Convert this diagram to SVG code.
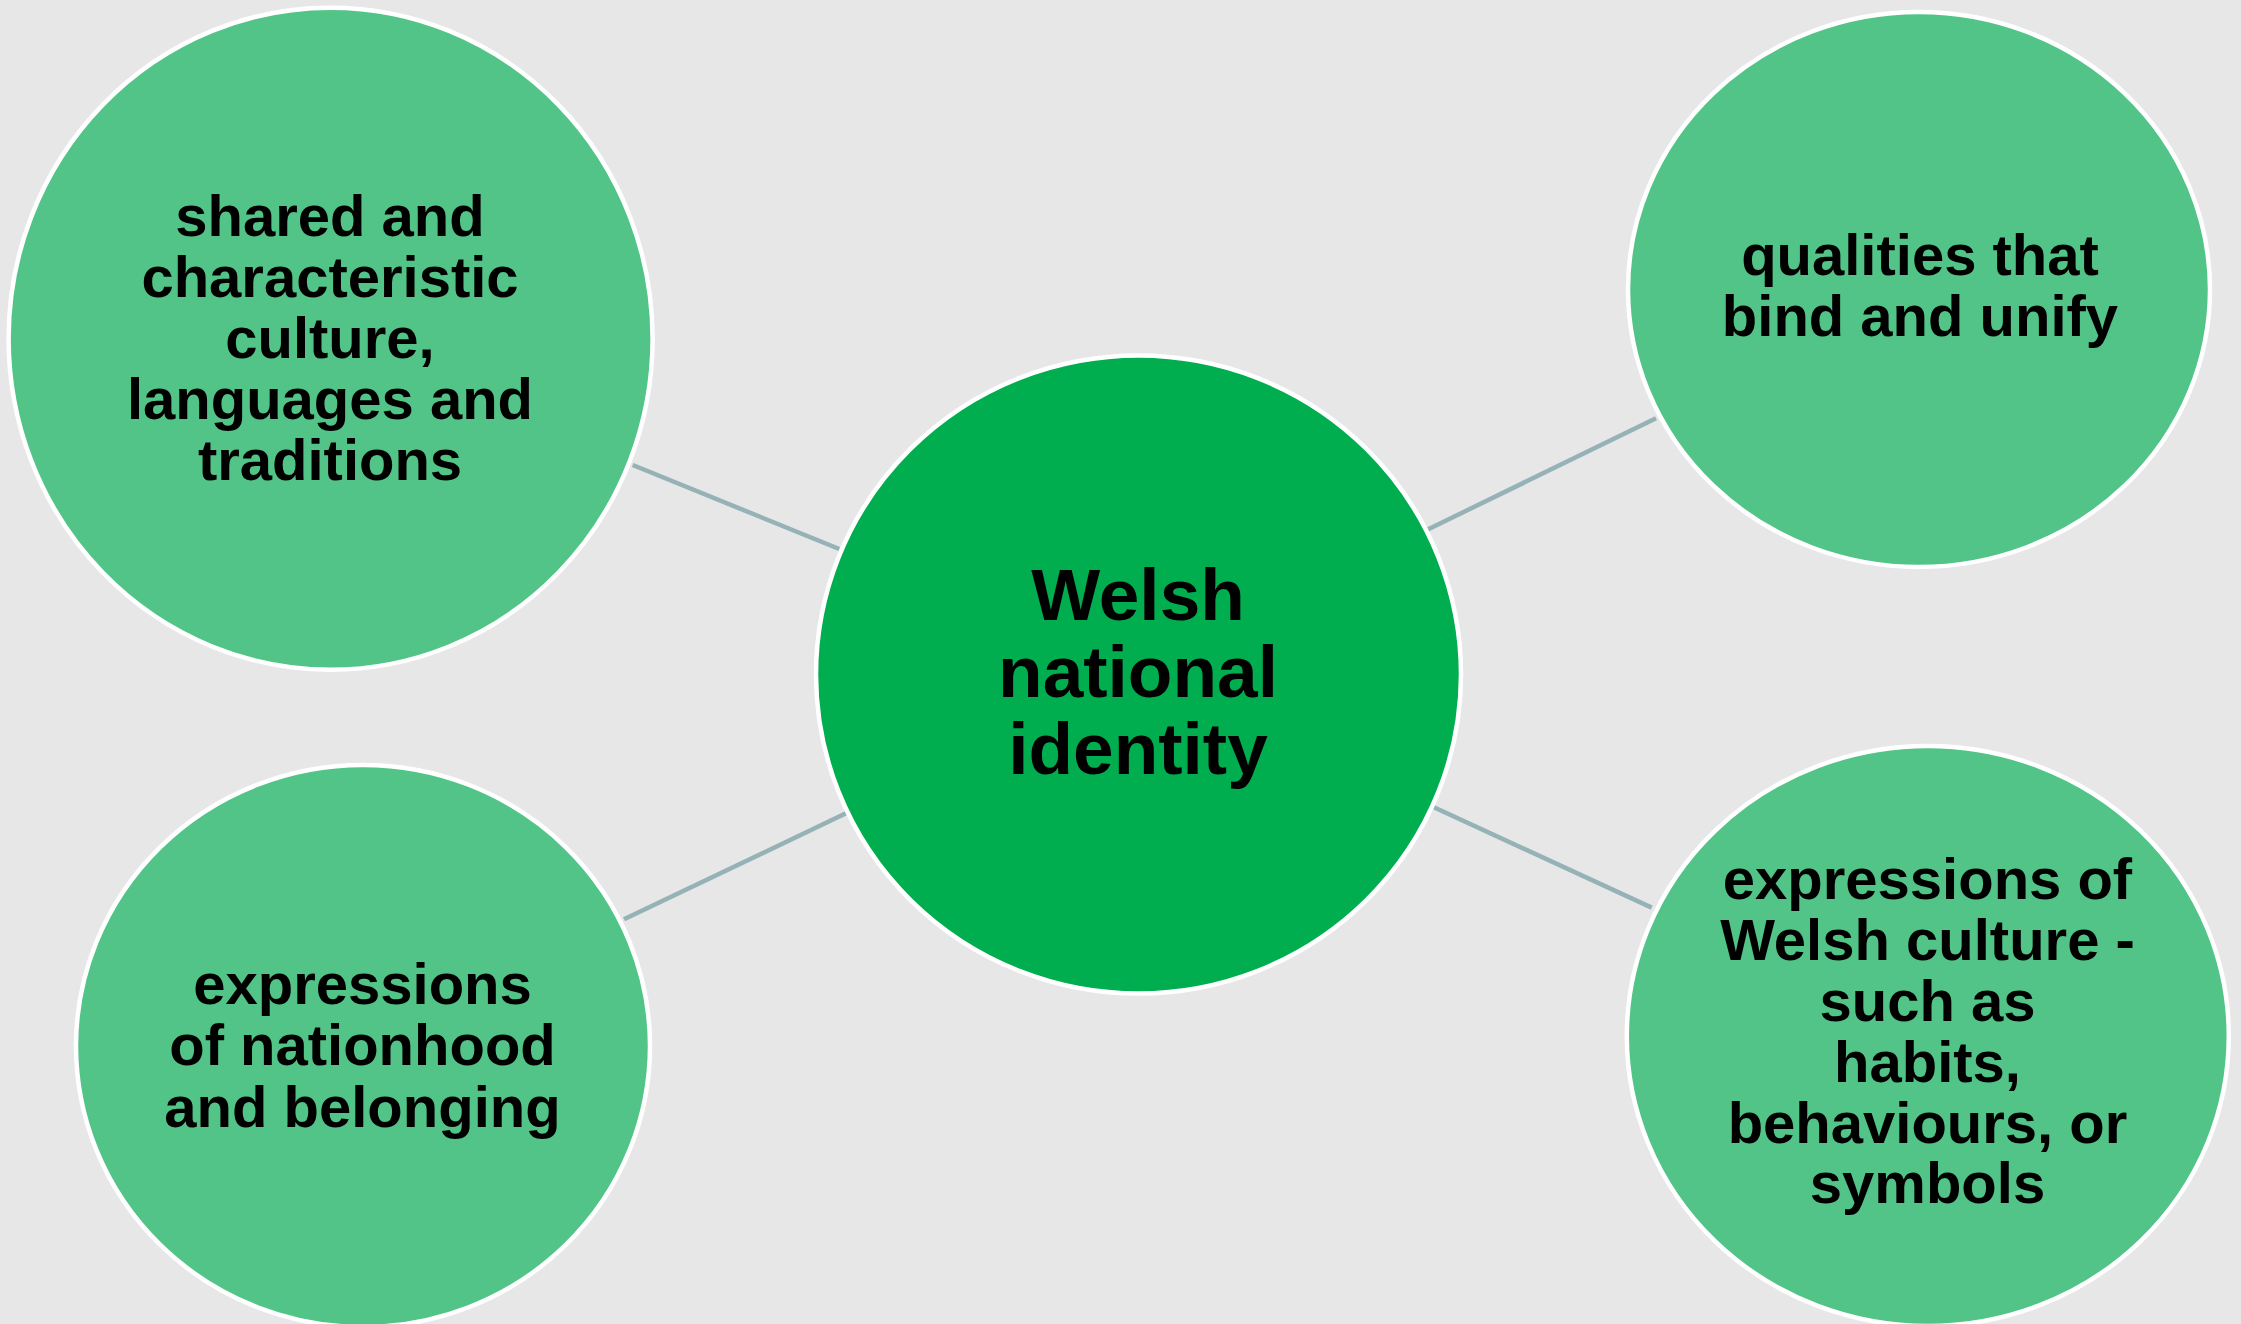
<svg xmlns="http://www.w3.org/2000/svg" width="2241" height="1324" viewBox="0 0 2241 1324">
<style>
.bg{fill:#e7e7e7}
.side{fill:#52c487;stroke:#ffffff;stroke-width:4.5}
.hub{fill:#00ae50;stroke:#ffffff;stroke-width:4.5}
.conn{stroke:#95b2b6;stroke-width:4.5;fill:none}
.lbl{font-family:"Liberation Sans",Arial,sans-serif;font-weight:bold;fill:#000;text-anchor:middle}
.s{font-size:58px}
.c{font-size:73px}
</style>
<rect class="bg" x="0" y="0" width="2241" height="1324"/>
<g id="connectors">
<line class="conn" x1="632.7" y1="465" x2="839.3" y2="549"/>
<line class="conn" x1="1426.7" y1="530" x2="1656" y2="418.3"/>
<line class="conn" x1="624" y1="919.3" x2="846" y2="813.3"/>
<line class="conn" x1="1431.7" y1="806.2" x2="1651.7" y2="907.6"/>
</g>
<g id="node-top-left">
<ellipse class="side" cx="330.6" cy="338.7" rx="322" ry="331"/>
<text class="lbl s"><tspan x="330" y="235.5">shared and</tspan><tspan x="330" y="296.6">characteristic</tspan><tspan x="330" y="357.7">culture,</tspan><tspan x="330" y="418.8">languages and</tspan><tspan x="330" y="479.9">traditions</tspan></text>
</g>
<g id="node-top-right">
<ellipse class="side" cx="1919" cy="289.5" rx="291" ry="277.5"/>
<text class="lbl s"><tspan x="1920" y="274.8">qualities that</tspan><tspan x="1920" y="336">bind and unify</tspan></text>
</g>
<g id="node-bottom-left">
<ellipse class="side" cx="363" cy="1046" rx="287" ry="281"/>
<text class="lbl s"><tspan x="362.5" y="1004.4">expressions</tspan><tspan x="362.5" y="1065.2">of nationhood</tspan><tspan x="362.5" y="1126.6">and belonging</tspan></text>
</g>
<g id="node-bottom-right">
<ellipse class="side" cx="1927.8" cy="1036" rx="301" ry="290"/>
<text class="lbl s"><tspan x="1927.5" y="899">expressions of</tspan><tspan x="1927.5" y="959.5">Welsh culture -</tspan><tspan x="1927.5" y="1020.5">such as</tspan><tspan x="1927.5" y="1081.5">habits,</tspan><tspan x="1927.5" y="1142.5">behaviours, or</tspan><tspan x="1927.5" y="1203">symbols</tspan></text>
</g>
<g id="node-center">
<ellipse class="hub" cx="1138.5" cy="674.5" rx="322.5" ry="319"/>
<text class="lbl c"><tspan x="1138" y="619.7">Welsh</tspan><tspan x="1138" y="696.5">national</tspan><tspan x="1138" y="773.6">identity</tspan></text>
</g>
</svg>
